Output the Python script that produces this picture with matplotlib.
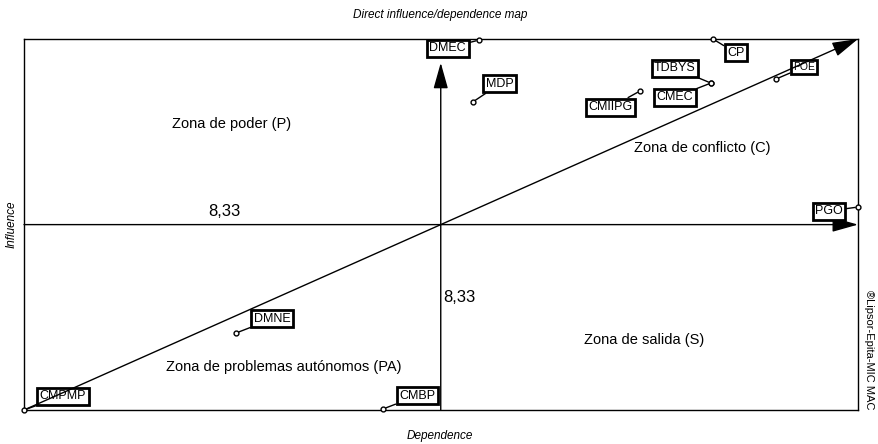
import matplotlib
matplotlib.use("Agg")
import matplotlib.pyplot as plt

plt.rcParams['font.family'] = ['Liberation Sans', 'DejaVu Sans']

# variables: dependence (x), influence (y)
names = ['CMPMP', 'CMBP', 'DMNE', 'DMEC', 'MDP', 'CMIIPG', 'TDBYS', 'CMEC', 'CP', 'POE', 'PGO']
dependence = [0.0, 7.18, 4.24, 9.09, 8.97, 12.31, 13.73, 13.73, 13.77, 15.03, 16.67]
influence = [0.0, 0.05, 3.46, 16.62, 13.84, 14.33, 14.69, 14.69, 16.67, 14.87, 9.12]
mean_dep = 8.33
mean_inf = 8.33
xmax = 16.67
ymax = 16.67

# label offsets in pixels (layout only)
offsets = {'CMPMP': (39, 14), 'CMBP': (34, 13), 'DMNE': (36, 14), 'DMEC': (-31, -8),
           'MDP': (27, 18), 'CMIIPG': (-29, -16), 'TDBYS': (-36, 15), 'CMEC': (-36, -14),
           'CP': (23, -14), 'POE': (28, 12), 'PGO': (-29, -4)}

fig = plt.figure(figsize=(8.79, 4.44), dpi=100)
ax = fig.add_axes([24 / 879, 34 / 444, 834 / 879, 371 / 444])
ax.set_xlim(0, xmax)
ax.set_ylim(0, ymax)
ax.set_xticks([])
ax.set_yticks([])
for s in ax.spines.values():
    s.set_linewidth(1.0)

head = '-|>,head_length=1.6,head_width=0.45'
# mean lines
ax.annotate('', xy=(xmax, mean_inf), xytext=(0, mean_inf),
            arrowprops=dict(arrowstyle=head, lw=1, color='k', shrinkA=0, shrinkB=0), zorder=4)
ax.annotate('', xy=(mean_dep, 15.6), xytext=(mean_dep, 0),
            arrowprops=dict(arrowstyle=head, lw=1, color='k', shrinkA=0, shrinkB=0), zorder=4)
# diagonal
ax.annotate('', xy=(xmax, ymax), xytext=(0, 0),
            arrowprops=dict(arrowstyle=head, lw=1, color='k', shrinkA=0, shrinkB=0), zorder=6)

ax.text(4.0, mean_inf + 0.25, '8,33', fontsize=12, ha='center', va='bottom')
ax.text(mean_dep + 0.05, 5.05, '8,33', fontsize=12, ha='left', va='center')

# zones
ax.text(4.15, 12.85, 'Zona de poder (P)', fontsize=10.5, ha='center', va='center')
ax.text(13.55, 11.75, 'Zona de conflicto (C)', fontsize=10.5, ha='center', va='center')
ax.text(5.2, 1.95, 'Zona de problemas autónomos (PA)', fontsize=10.5, ha='center', va='center')
ax.text(12.4, 3.15, 'Zona de salida (S)', fontsize=10.5, ha='center', va='center')

ax.plot(dependence, influence, 'o', ms=3.5, mfc='white', mec='k', mew=1, zorder=7, clip_on=False)
for n, x, y in zip(names, dependence, influence):
    dx, dy = offsets[n]
    fs = 7.5 if n == 'POE' else 9
    ax.annotate(n, xy=(x, y), xytext=(dx, dy), textcoords='offset pixels',
                fontsize=fs, ha='center', va='center', zorder=5, annotation_clip=False,
                bbox=dict(boxstyle='square,pad=0.2', fc='white', ec='k', lw=2),
                arrowprops=dict(arrowstyle='-', lw=1, color='k', shrinkA=0, shrinkB=2))

fig.text(440 / 879, 1 - 15 / 444, 'Direct influence/dependence map', fontsize=8.5,
         style='italic', ha='center', va='center')
fig.text(12 / 879, 1 - 224 / 444, 'Influence', fontsize=8.5, style='italic',
         rotation=90, ha='center', va='center')
fig.text(440 / 879, 1 - 436 / 444, 'Dependence', fontsize=8.5, style='italic',
         ha='center', va='center')
fig.text(869 / 879, 1 - 350 / 444, '®Lipsor-Epita-MIC MAC', fontsize=8,
         rotation=-90, ha='center', va='center')

fig.savefig('out.png', dpi=100)
